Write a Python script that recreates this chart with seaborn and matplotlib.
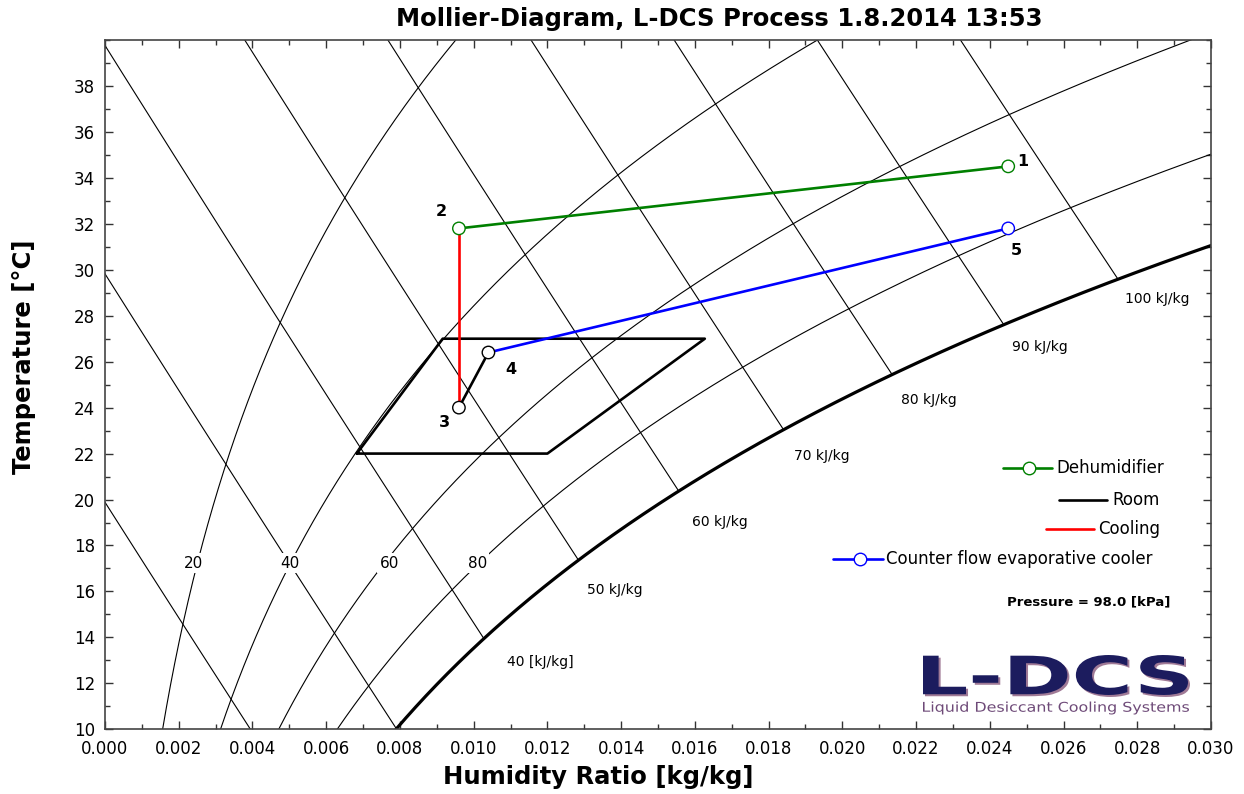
import numpy as np
import pandas as pd
import matplotlib
matplotlib.use("Agg")
import matplotlib.pyplot as plt
import seaborn as sns
from matplotlib.textpath import TextPath
from matplotlib.patches import PathPatch
from matplotlib.font_manager import FontProperties
from matplotlib.transforms import Affine2D
from matplotlib.ticker import MultipleLocator, FormatStrFormatter

# ---------------- data ----------------
pressure_kpa = 98.0
rh_levels = [20, 40, 60, 80]
saturation_rh = 100
enthalpy_levels = [20, 30, 40, 50, 60, 70, 80, 90, 100]

rh_label_text = ["20", "40", "60", "80"]
rh_label_w = [0.00241, 0.00502, 0.00771, 0.01010]
rh_label_T = [17.23, 17.23, 17.23, 17.23]

h_label_text = ["40 [kJ/kg]", "50 kJ/kg", "60 kJ/kg", "70 kJ/kg",
                "80 kJ/kg", "90 kJ/kg", "100 kJ/kg"]
h_label_w = [0.01180, 0.01383, 0.01668, 0.01945, 0.02235, 0.02536, 0.02853]
h_label_T = [12.93, 16.06, 19.02, 21.89, 24.32, 26.62, 28.71]

point_ids = ["1", "2", "3", "4", "5"]
point_w = [0.0245, 0.0096, 0.0096, 0.0104, 0.0245]
point_T = [34.5, 31.8, 24.0, 26.4, 31.8]
point_edge = ["#008000", "#008000", "black", "black", "blue"]
point_label_w = [0.02489, 0.00911, 0.00920, 0.01101, 0.02471]
point_label_T = [34.71, 32.54, 23.37, 25.66, 30.83]

segment_names = ["Dehumidifier", "Cooling", "Link", "Counter flow evaporative cooler"]
segment_from = [0, 1, 2, 3]
segment_to = [1, 2, 3, 4]
segment_colors = ["#008000", "red", "black", "blue"]

room_w = [0.00683, 0.01200, 0.01627, 0.00916, 0.00683]
room_T = [22.0, 22.0, 27.0, 27.0, 22.0]

x_ticks = np.arange(0.0, 0.0301, 0.002)
y_ticks = np.arange(10, 38.1, 2)

# ---------------- psychrometrics ----------------
def p_ws(T):
    return 0.61121 * np.exp((18.678 - T / 234.5) * (T / (257.14 + T)))

def w_from_rh(rh, T):
    pw = rh / 100.0 * p_ws(T)
    return 0.622 * pw / (pressure_kpa - pw)

T_grid = np.linspace(10, 41, 3101)

rh_rows = []
for rh in rh_levels:
    for T in T_grid:
        rh_rows.append((rh, T, w_from_rh(rh, T)))
df_rh = pd.DataFrame(rh_rows, columns=["rh", "T", "w"])
df_sat = pd.DataFrame({"T": T_grid, "w": w_from_rh(saturation_rh, T_grid)})

h_rows = []
for h in enthalpy_levels:
    w = (h - 1.006 * T_grid) / (2501 + 1.86 * T_grid)
    ws = w_from_rh(100, T_grid)
    mask = (w <= ws) & (w >= -0.0005)
    for T, ww in zip(T_grid[mask], w[mask]):
        h_rows.append((h, T, ww))
df_h = pd.DataFrame(h_rows, columns=["h", "T", "w"])

seg_rows = []
for name, a, b in zip(segment_names, segment_from, segment_to):
    seg_rows.append((name, 0, point_w[a], point_T[a]))
    seg_rows.append((name, 1, point_w[b], point_T[b]))
df_seg = pd.DataFrame(seg_rows, columns=["seg", "order", "w", "T"])
df_pts = pd.DataFrame({"id": point_ids, "w": point_w, "T": point_T})
df_room = pd.DataFrame({"w": room_w, "T": room_T, "o": range(len(room_w))})

# ---------------- figure ----------------
sns.set_theme(style="ticks")
plt.rcParams["font.family"] = ["DejaVu Sans"]
plt.rcParams["text.color"] = "black"
plt.rcParams["axes.labelcolor"] = "black"
plt.rcParams["xtick.color"] = "black"
plt.rcParams["ytick.color"] = "black"

W, H = 1244, 794
fig = plt.figure(figsize=(W / 100, H / 100), dpi=100)
L, R, Tp, B = 105, 1211, 40, 729.3
ax = fig.add_axes([L / W, 1 - B / H, (R - L) / W, (B - Tp) / H])

sns.lineplot(data=df_rh, x="w", y="T", units="rh", estimator=None, sort=False,
             color="black", lw=0.8, ax=ax, legend=False)
sns.lineplot(data=df_h, x="w", y="T", units="h", estimator=None, sort=False,
             color="black", lw=0.8, ax=ax, legend=False)
sns.lineplot(data=df_sat, x="w", y="T", estimator=None, sort=False,
             color="black", lw=2.3, ax=ax, legend=False)

sns.lineplot(data=df_room, x="w", y="T", estimator=None, sort=False,
             color="black", lw=1.9, ax=ax, legend=False)
sns.lineplot(data=df_seg, x="w", y="T", hue="seg", units="seg", estimator=None,
             sort=False, palette=dict(zip(segment_names, segment_colors)),
             lw=1.9, ax=ax, legend=False)
sns.scatterplot(data=df_pts, x="w", y="T", s=80, facecolor="white",
                edgecolor=point_edge, linewidth=1.0, ax=ax, zorder=5, legend=False)

for t, x, y in zip(point_ids, point_label_w, point_label_T):
    ax.text(x, y, t, fontsize=11.5, fontweight="bold", ha="center", va="center")

for t, x, y in zip(rh_label_text, rh_label_w, rh_label_T):
    ax.text(x, y, t, fontsize=11, ha="center", va="center", zorder=4,
            bbox=dict(boxstyle="square,pad=0.15", fc="white", ec="none"))

for t, x, y in zip(h_label_text, h_label_w, h_label_T):
    ax.text(x, y, t, fontsize=10, ha="center", va="center")

ax.set_xlim(0.0, 0.030)
ax.set_ylim(10, 40)
ax.set_xticks(x_ticks)
ax.set_yticks(y_ticks)
ax.xaxis.set_major_formatter(FormatStrFormatter("%.3f"))
ax.xaxis.set_minor_locator(MultipleLocator(0.001))
ax.yaxis.set_minor_locator(MultipleLocator(1))
ax.tick_params(which="both", direction="in", top=True, right=True,
               labelsize=12, color="#333333", width=1.0)
ax.tick_params(which="major", length=6)
ax.tick_params(axis="x", which="major", pad=8)
ax.tick_params(axis="y", which="major", pad=7)
ax.tick_params(which="minor", length=3.5)
for s in ax.spines.values():
    s.set_color("#444444")
    s.set_linewidth(1.2)

ax.set_xlabel("")
ax.set_ylabel("")
fig.text(598 / W, 1 - 777 / H, "Humidity Ratio [kg/kg]", fontsize=17.5,
         fontweight="bold", ha="center", va="center")
fig.text(24 / W, 1 - 357 / H, "Temperature [°C]", fontsize=17.5,
         fontweight="bold", ha="center", va="center", rotation=90)
fig.text(719 / W, 1 - 19 / H, "Mollier-Diagram, L-DCS Process 1.8.2014 13:53",
         fontsize=17.5, fontweight="bold", ha="center", va="center")

# legend (custom, as in the reference)
def px2ax(px, py):
    return (px - L) / (R - L), (B - py) / (B - Tp)

legend_items = [
    ("Dehumidifier", "#008000", 1003, 1052, 468, 1029, 1056),
    ("Room", "black", 1059, 1107, 500, None, 1112),
    ("Cooling", "red", 1046, 1094, 529, None, 1098),
    ("Counter flow evaporative cooler", "blue", 833, 883, 559, 860, 886),
]
for name, c, x0, x1, y, xm, xt in legend_items:
    a0 = px2ax(x0, y)
    a1 = px2ax(x1, y)
    ax.plot([a0[0], a1[0]], [a0[1], a1[1]], color=c, lw=1.9,
            transform=ax.transAxes, clip_on=False)
    if xm is not None:
        am = px2ax(xm, y)
        ax.plot([am[0]], [am[1]], "o", ms=9, mfc="white", mec=c, mew=1.0,
                transform=ax.transAxes, clip_on=False)
    at = px2ax(xt, y)
    ax.text(at[0], at[1], name, fontsize=12, ha="left", va="center",
            transform=ax.transAxes)

ap = px2ax(1007, 602)
ax.text(ap[0], ap[1], "Pressure = 98.0 [kPa]", fontsize=9.5, fontweight="bold",
        ha="left", va="center", transform=ax.transAxes)

# logo
def fit_text(text, x0, x1, ytop, ybot, color, weight="bold", dx=0, dy=0, z=6):
    tp = TextPath((0, 0), text, size=1,
                  prop=FontProperties(family="DejaVu Sans", weight=weight))
    bb = tp.get_extents()
    sx = (x1 - x0) / W / bb.width
    sy = (ybot - ytop) / H / bb.height
    tr = (Affine2D().translate(-bb.x0, -bb.y0).scale(sx, sy)
          .translate((x0 + dx) / W, 1 - (ybot + dy) / H) + fig.transFigure)
    fig.patches.append(PathPatch(tp, transform=tr, fc=color, ec="none", zorder=z))

fit_text("L-DCS", 923, 1188, 655, 695, "#a07a96", dx=2, dy=2, z=5)
fit_text("L-DCS", 923, 1188, 655, 695, "#1c1c5e", z=6)
fit_text("Liquid Desiccant Cooling Systems", 923, 1189, 701.5, 714.5,
         "#6e4a78", weight="normal", z=6)

fig.savefig("out.png", dpi=100)
